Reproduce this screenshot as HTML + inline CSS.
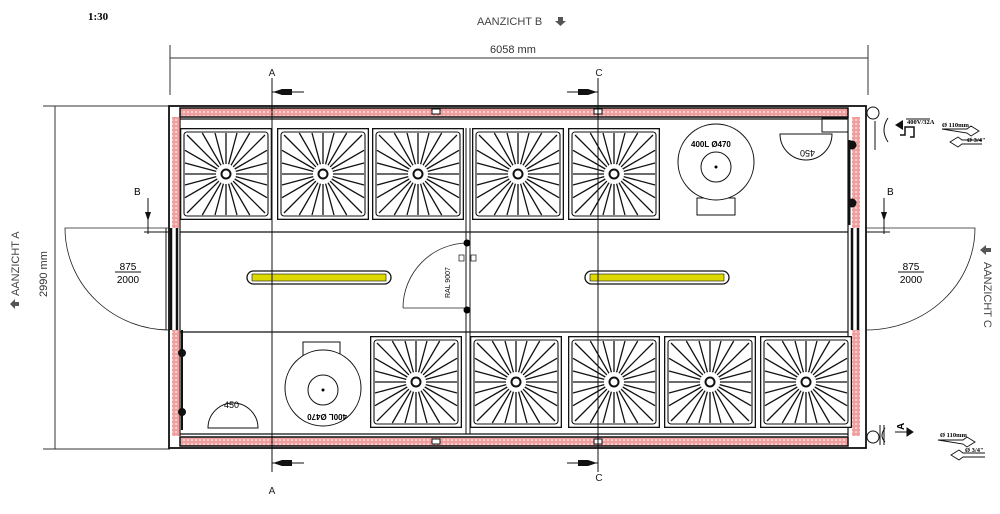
<!DOCTYPE html>
<html><head><meta charset="utf-8"><style>
html,body{margin:0;padding:0;background:#fff;width:1000px;height:514px;overflow:hidden}
svg{display:block}
text{font-family:"Liberation Sans",sans-serif}
text.sf{font-family:"Liberation Serif",serif;font-weight:bold}
</style></head><body>
<svg width="1000" height="514" viewBox="0 0 1000 514" xmlns="http://www.w3.org/2000/svg">
<defs>
<pattern id="pk" width="4" height="4" patternUnits="userSpaceOnUse">
<rect width="4" height="4" fill="#f9d0d0"/><circle cx="2" cy="2" r="1.2" fill="none" stroke="#e06060" stroke-width="0.7"/>
</pattern>
<g id="q" stroke="#111" stroke-width="1.3">
<line x1="10" y1="0" x2="41" y2="0"/><line x1="9.7" y1="2.6" x2="41" y2="11"/>
<line x1="8.7" y1="5" x2="41" y2="23.7"/><line x1="7.1" y1="7.1" x2="39" y2="39"/>
<line x1="5" y1="8.7" x2="23.7" y2="41"/><line x1="2.6" y1="9.7" x2="11" y2="41"/>
</g>
<symbol id="sh" viewBox="-46 -46 92 92" width="92" height="92">
<rect x="-45.5" y="-45.5" width="91" height="91" fill="#fff" stroke="#111" stroke-width="1.6"/>
<rect x="-42" y="-42" width="84" height="84" rx="3" fill="none" stroke="#111" stroke-width="1.1"/>
<use href="#q"/><use href="#q" transform="rotate(90)"/><use href="#q" transform="rotate(180)"/><use href="#q" transform="rotate(270)"/>
<circle r="4.5" fill="#fff" stroke="#111" stroke-width="2"/>
</symbol>
</defs>

<text x="88" y="20" class="sf" font-size="11">1:30</text>
<text x="477" y="25" font-size="11" fill="#444">AANZICHT B</text>
<path d="M558 17h5v4h3l-5.5 5-5.5-5h3z" fill="#555"/>
<text x="490" y="53" font-size="11" fill="#333">6058 mm</text>

<g stroke="#333" stroke-width="1" fill="none">
<line x1="170" y1="45" x2="170" y2="95"/><line x1="868" y1="45" x2="868" y2="95"/>
<line x1="170" y1="58" x2="868" y2="58"/>
<line x1="43" y1="106" x2="170" y2="106"/><line x1="43" y1="449" x2="170" y2="449"/>
<line x1="55" y1="106" x2="55" y2="449"/>
</g>
<text transform="translate(47,297) rotate(-90)" font-size="11" fill="#333">2990 mm</text>
<text transform="translate(19,296) rotate(-90)" font-size="11" fill="#444">AANZICHT A</text>
<path d="M10 304l5-5 5 5h-3v4h-4v-4z" fill="#555" transform="rotate(-90 15 304)"/>
<text transform="translate(984,262) rotate(90)" font-size="11" fill="#444">AANZICHT C</text>
<path d="M980 250l6-5v3h5v4h-5v3z" fill="#555"/>

<rect x="180" y="108" width="668" height="9" fill="url(#pk)" stroke="#111" stroke-width="1.5"/>
<rect x="180" y="437" width="668" height="9" fill="url(#pk)" stroke="#111" stroke-width="1.5"/>
<rect x="172" y="117" width="7" height="111" fill="url(#pk)"/>
<rect x="172" y="330" width="7" height="106" fill="url(#pk)"/>
<rect x="852" y="117" width="8" height="111" fill="url(#pk)"/>
<rect x="852" y="330" width="8" height="106" fill="url(#pk)"/>
<g stroke="#111" fill="none">
<rect x="169" y="106" width="697" height="342" stroke-width="1.8"/>
<line x1="180" y1="119" x2="848" y2="119" stroke-width="1.2"/>
<line x1="180" y1="434" x2="848" y2="434" stroke-width="1.2"/>
<line x1="180" y1="117" x2="180" y2="436" stroke-width="1.2"/>
<line x1="848" y1="117" x2="848" y2="436" stroke-width="1.2"/>
<line x1="166" y1="228" x2="166" y2="330" stroke-width="1"/>
<line x1="171" y1="228" x2="171" y2="330" stroke-width="2.5"/>
<line x1="177" y1="228" x2="177" y2="330" stroke-width="2.5"/>
<line x1="866" y1="228" x2="866" y2="330" stroke-width="1"/>
<line x1="852" y1="228" x2="852" y2="330" stroke-width="2.5"/>
<line x1="858" y1="228" x2="858" y2="330" stroke-width="2.5"/>
<line x1="180" y1="232" x2="848" y2="232" stroke-width="1.3"/>
<line x1="180" y1="332" x2="848" y2="332" stroke-width="1.3"/>
<line x1="466" y1="128" x2="466" y2="434" stroke-width="1"/>
<line x1="470" y1="128" x2="470" y2="434" stroke-width="1"/>
</g>
<g fill="#fff" stroke="#111"><rect x="432" y="109" width="8" height="5"/><rect x="594" y="109" width="8" height="5"/><rect x="432" y="439" width="8" height="5"/><rect x="594" y="439" width="8" height="5"/></g>

<use href="#sh" x="180" y="128"/><use href="#sh" x="277" y="128"/><use href="#sh" x="372" y="128"/><use href="#sh" x="472" y="128"/><use href="#sh" x="568" y="128"/>
<use href="#sh" x="370" y="336"/><use href="#sh" x="470" y="336"/><use href="#sh" x="568" y="336"/><use href="#sh" x="664" y="336"/><use href="#sh" x="760" y="336"/>

<g stroke="#111" fill="#fff" stroke-width="1">
<rect x="697" y="198" width="38" height="17"/><circle cx="716" cy="162" r="38"/><circle cx="716" cy="167" r="15"/>
<rect x="303" y="342" width="37" height="16"/><circle cx="323" cy="388" r="38"/><circle cx="323" cy="390" r="15"/>
<path d="M780 134a26 26 0 0 0 52 0z"/><path d="M208 428a25 25 0 0 1 50 0z"/>
</g>
<circle cx="716" cy="167" r="1.5"/><circle cx="323" cy="390" r="1.5"/>
<text x="691" y="147" font-size="8" font-weight="bold">400L Ø470</text>
<text transform="translate(347,414) rotate(180)" font-size="8" font-weight="bold">400L Ø470</text>
<text transform="translate(815,150) rotate(180)" font-size="9">450</text>
<text x="224" y="408" font-size="9">450</text>

<path d="M403 308H468M403 308A65 65 0 0 1 468 243" fill="none" stroke="#222" stroke-width="0.8"/>
<circle cx="467" cy="243" r="3.5"/><circle cx="467" cy="310" r="3.5"/>
<rect x="459" y="255" width="5" height="6" fill="#fff" stroke="#111" stroke-width="0.7"/><rect x="471" y="255" width="5" height="6" fill="#fff" stroke="#111" stroke-width="0.7"/>
<text transform="translate(450,298) rotate(-90)" font-size="7">RAL 9007</text>

<g stroke="#111"><rect x="247" y="271" width="144" height="13" rx="6.5" fill="#fff" stroke-width="1.3"/><rect x="252" y="274" width="134" height="7" fill="#dcd800" stroke-width="0.6"/>
<rect x="585" y="271" width="144" height="13" rx="6.5" fill="#fff" stroke-width="1.3"/><rect x="590" y="274" width="134" height="7" fill="#dcd800" stroke-width="0.6"/></g>

<path d="M170 228H65A105 102 0 0 0 170 330" fill="none" stroke="#222" stroke-width="0.8"/>
<path d="M866 228H975A109 102 0 0 1 866 330" fill="none" stroke="#222" stroke-width="0.8"/>
<g font-size="10" text-anchor="middle"><text x="128" y="270">875</text><text x="128" y="283">2000</text><text x="911" y="270">875</text><text x="911" y="283">2000</text></g>
<line x1="115" y1="272" x2="141" y2="272" stroke="#111"/><line x1="898" y1="272" x2="924" y2="272" stroke="#111"/>
<g stroke="#111"><line x1="148" y1="198" x2="148" y2="234"/><line x1="144" y1="232" x2="170" y2="232"/><line x1="884" y1="198" x2="884" y2="234"/><line x1="866" y1="232" x2="890" y2="232"/></g>
<path d="M145 212h6l-3 9z M881 212h6l-3 9z" fill="#111"/>
<text x="134" y="195" font-size="10">B</text><text x="887" y="195" font-size="10">B</text>

<g stroke="#111" stroke-width="1"><line x1="272" y1="78" x2="272" y2="472"/><line x1="598" y1="78" x2="598" y2="472"/>
<line x1="272" y1="92" x2="304" y2="92"/><line x1="272" y1="463" x2="304" y2="463"/><line x1="567" y1="92" x2="598" y2="92"/><line x1="567" y1="463" x2="598" y2="463"/></g>
<path d="M273 92l9-3h10v6h-10z M273 463l9-3h10v6h-10z M597 92l-9-3h-10v6h10z M597 463l-9-3h-10v6h10z" fill="#111"/>
<g font-size="10" fill="#222" text-anchor="middle"><text x="272" y="76">A</text><text x="272" y="494">A</text><text x="599" y="76">C</text><text x="599" y="481">C</text></g>

<g stroke="#111" fill="none"><line x1="849" y1="140" x2="849" y2="225" stroke-width="3"/><circle cx="852" cy="145" r="4" fill="#111"/><circle cx="852" cy="203" r="4" fill="#111"/>
<line x1="182" y1="330" x2="182" y2="430" stroke-width="2"/><circle cx="182" cy="353" r="3.5" fill="#111"/><circle cx="182" cy="412" r="3.5" fill="#111"/>
<rect x="822" y="118" width="26" height="14"/>
<circle cx="873" cy="113" r="6"/><circle cx="873" cy="437" r="6"/>
<path d="M888 118q-8 12 0 24M885 428q-6 8 0 14" stroke-width="1"/>
<line x1="875" y1="121" x2="875" y2="150"/><line x1="880" y1="425" x2="880" y2="445"/><line x1="884" y1="425" x2="884" y2="445"/>
<path d="M900 135h5v-8h9v10h-4" stroke-width="1.5"/>
<line x1="906" y1="119" x2="930" y2="119"/>
</g>
<path d="M895 125l8-5v10z" fill="#111"/>
<path d="M895 432h18M913 432l-6-4v8z" stroke="#111" fill="#111"/>
<text transform="translate(904,430) rotate(-90)" font-size="10" font-weight="bold">A</text>
<g font-size="6.5">
<text class="sf" x="907" y="124">400V/32A</text><text class="sf" x="942" y="127">Ø 110mm</text><text class="sf" x="967" y="142">Ø 3/4"</text>
<text class="sf" x="940" y="437">Ø 110mm</text><text class="sf" x="965" y="452">Ø 3/4"</text></g>
<path d="M942 129h25l4 -3 8 5-8 5-4-3z M982 140h-20l-4 -3-8 5 8 5 4-3h20 M938 440h25l4-3 8 5-8 5-4-3z M985 453h-22l-4-3-8 5 8 5 4-3h22" fill="none" stroke="#111" stroke-width="0.9"/>
</svg>
</body></html>
